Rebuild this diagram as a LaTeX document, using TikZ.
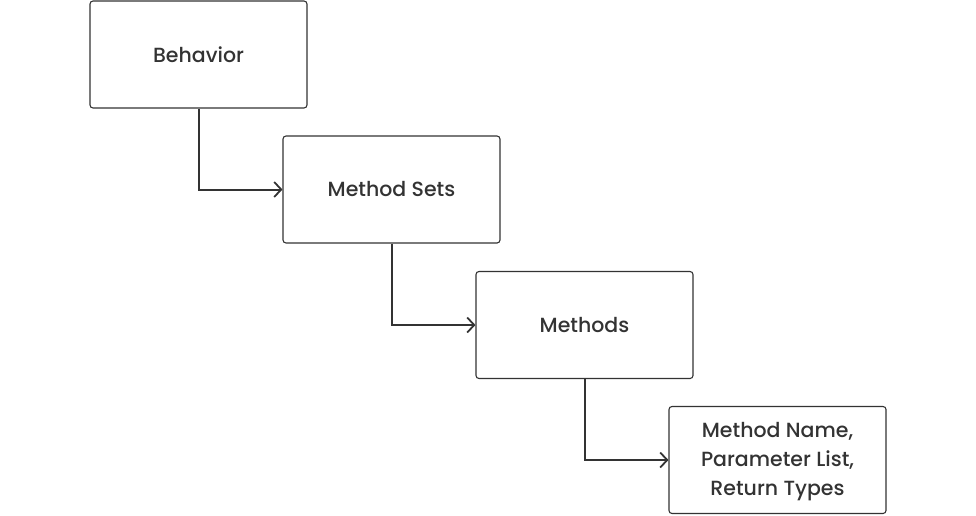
\documentclass[tikz,border=0pt]{standalone}
\usepackage{fontspec}
\setmainfont{Poppins}[UprightFont=* Medium]
\usetikzlibrary{arrows.meta}
\definecolor{ink}{HTML}{333333}
\tikzset{
  blk/.style={draw=ink, line width=1.1pt, rounded corners=3pt, minimum width=217pt, minimum height=107pt, inner sep=0pt, text=ink, font=\fontsize{20.5}{29}\selectfont, align=center},
  conn/.style={draw=ink, line width=2pt, -{Straight Barb[length=7pt,width=15pt,line width=1.8pt]}}
}
\begin{document}
\begin{tikzpicture}[x=1pt,y=-1pt]
\useasboundingbox (0,0) rectangle (976,515);
\node[blk] (b1) at (198.5,54.5) {Behavior};
\node[blk] (b2) at (391.5,189.5) {Method Sets};
\node[blk] (b3) at (584.5,325) {Methods};
\node[blk, text depth=3pt] (b4) at (777.5,460) {Method Name,\\Parameter List,\\Return Types};
\draw[conn] (b1.south) |- (b2.west);
\draw[conn] (b2.south) |- (b3.west);
\draw[conn] (b3.south) |- (b4.west);
\end{tikzpicture}
\end{document}
